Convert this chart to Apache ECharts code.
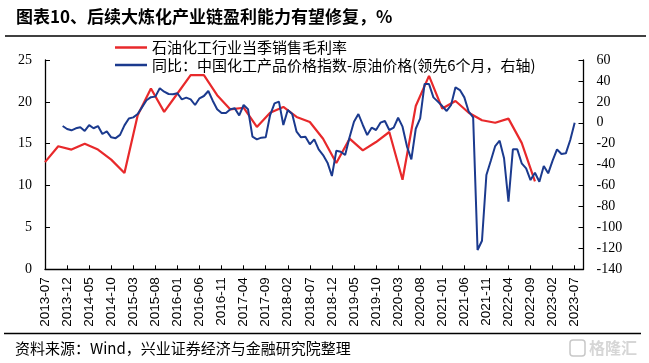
<!DOCTYPE html>
<html>
<head>
<meta charset="utf-8">
<script src="https://cdn.jsdelivr.net/npm/echarts@6/dist/echarts.min.js"></script>
<style>
html,body{margin:0;padding:0;background:#fff;}
#chart{width:649px;height:363px;}
</style>
</head>
<body>
<div id="chart"></div>
<script>
// ---- data ----
var startYear = 2013, startMonth = 7, monthCount = 123; // 2013-07 .. 2023-09 (axis range)
var categories = [];
for (var k = 0; k < monthCount; k++) {
  var m = startMonth - 1 + k;
  var yy = startYear + Math.floor(m / 12);
  var mm = (m % 12) + 1;
  categories.push(yy + '-' + (mm < 10 ? '0' + mm : '' + mm));
}
var tickLabels = ['2013-07','2013-12','2014-05','2014-10','2015-03','2015-08','2016-01','2016-06',
  '2016-11','2017-04','2017-09','2018-02','2018-07','2018-12','2019-05','2019-10','2020-03','2020-08',
  '2021-01','2021-06','2021-11','2022-04','2022-09','2023-02','2023-07'];

var seriesNames = ['石油化工行业当季销售毛利率', '同比：中国化工产品价格指数-原油价格(领先6个月，右轴)'];

var marginMonths = ['2013-07','2013-10','2014-01','2014-04','2014-07','2014-10','2015-01','2015-04',
  '2015-07','2015-10','2016-01','2016-04','2016-07','2016-10','2017-01','2017-04','2017-07','2017-10',
  '2018-01','2018-04','2018-07','2018-10','2019-01','2019-04','2019-07','2019-10','2020-01','2020-04',
  '2020-07','2020-10','2021-01','2021-04','2021-07','2021-10','2022-01','2022-04','2022-07','2022-10'];
var marginValues = [12.8,14.7,14.3,15.0,14.3,13.1,11.5,18.4,
  21.6,18.8,21.0,23.2,23.2,20.8,19.1,19.3,17.0,18.7,
  19.4,18.2,17.6,15.6,12.7,15.6,14.2,15.2,16.4,10.7,
  19.5,23.1,19.2,20.1,18.7,17.8,17.5,18.0,15.1,10.5];

var spreadStart = '2013-11';
var spreadValues = [
  -3.1,-5.9,-7.2,-5.3,-4.3,-7.8,-2.3,-5.2,-3.1,-10.7,          // 2013-11 .. 2014-08
  -8.2,-13.9,-14.7,-11.6,-2.5,4.1,5.2,8.4,15,21.5,             // 2014-09 .. 2015-06
  24.5,25,33,29.7,27.5,27.2,28.2,22.4,24,22.4,                 // 2015-07 .. 2016-04
  17,23.4,25.6,30.4,21.1,13,9.3,9.3,12.9,13.8,                 // 2016-05 .. 2017-02
  7,17,12.9,-13.3,-15.8,-14.2,-13.9,7.4,18.6,20.2,             // 2017-03 .. 2017-12
  -2.1,12.2,8.4,-8.5,-13.9,-13.3,-20.6,-15.8,-25.4,-30.8,      // 2018-01 .. 2018-10
  -38.1,-50.9,-26.7,-27.6,-30.8,-13.9,1,8.4,-2.1,-11.7,        // 2018-11 .. 2019-08
  -4.7,-6.9,0.1,1.7,-6.9,-4.7,4.8,-3.7,-22.5,-34.9,            // 2019-09 .. 2020-06
  -5.7,4.3,37.1,37.1,24.3,20.2,16,11.3,17,33.9,                // 2020-07 .. 2021-04
  31.3,24.3,10.6,5.2,-121.6,-112.7,-49.9,-36.2,-22.2,-17.1,    // 2021-05 .. 2022-02
  -33.9,-75.4,-25.4,-25.4,-38.7,-43.5,-54.7,-47.7,-56.3,-41.3, // 2022-03 .. 2022-12
  -48.3,-36.2,-25.4,-29.8,-29.2,-16.5,0.1                      // 2023-01 .. 2023-07
];

var leftTicks = {min: 0, max: 25, interval: 5};
var rightTicks = {min: -140, max: 60, interval: 20};

var titleText = '图表10、后续大炼化产业链盈利能力有望修复，%';
var sourceText = '资料来源：Wind，兴业证券经济与金融研究院整理';

// ---- build series data ----
var marginData = marginMonths.map(function (mo, i) { return [mo, marginValues[i]]; });
var s0 = categories.indexOf(spreadStart);
var spreadData = spreadValues.map(function (v, i) { return [categories[s0 + i], v]; });
var showTick = function (idx, value) { return tickLabels.indexOf(categories[idx]) >= 0; };

var RED = '#E8292B', BLUE = '#1B3A8E';
var chart = echarts.init(document.getElementById('chart'), null, {renderer: 'canvas'});

var option = {
  backgroundColor: '#fff',
  animation: false,
  grid: {left: 45, right: 65.5, top: 60, bottom: 93.7, containLabel: false},
  legend: [
    {data: [{name: seriesNames[0], icon: 'rect'}], left: 115, top: 39.5, padding: 0,
     itemWidth: 32, itemHeight: 2.5, itemGap: 5,
     textStyle: {fontSize: 15, lineHeight: 16, color: '#000', fontFamily: 'Noto Sans CJK SC'}},
    {data: [{name: seriesNames[1], icon: 'rect'}], left: 115, top: 57, padding: 0,
     itemWidth: 32, itemHeight: 2.5, itemGap: 5,
     textStyle: {fontSize: 15, lineHeight: 16, color: '#000', fontFamily: 'Noto Sans CJK SC'}}
  ],
  xAxis: {
    type: 'category', data: categories, boundaryGap: false,
    axisLine: {lineStyle: {color: '#000', width: 1.3}},
    axisTick: {inside: true, length: 4, interval: showTick, lineStyle: {color: '#000'}},
    axisLabel: {interval: showTick, rotate: 90, margin: 8, color: '#000', fontSize: 13.5,
                fontFamily: 'Liberation Sans', hideOverlap: false},
    splitLine: {show: false}
  },
  yAxis: [
    {type: 'value', min: leftTicks.min, max: leftTicks.max, interval: leftTicks.interval,
     axisLine: {show: true, lineStyle: {color: '#000', width: 1.3}},
     axisTick: {show: true, inside: true, length: 5, lineStyle: {color: '#000'}},
     axisLabel: {color: '#000', fontSize: 14, margin: 13, fontFamily: 'Liberation Serif'},
     splitLine: {show: false}},
    {type: 'value', min: rightTicks.min, max: rightTicks.max, interval: rightTicks.interval,
     position: 'right',
     axisLine: {show: true, lineStyle: {color: '#000', width: 1.3}},
     axisTick: {show: true, inside: true, length: 5, lineStyle: {color: '#000'}},
     axisLabel: {color: '#000', fontSize: 14, margin: 13, fontFamily: 'Liberation Serif'},
     splitLine: {show: false}}
  ],
  series: [
    {name: seriesNames[0], type: 'line', yAxisIndex: 0, data: marginData,
     showSymbol: false, symbol: 'none', color: RED,
     lineStyle: {color: RED, width: 2.2}},
    {name: seriesNames[1], type: 'line', yAxisIndex: 1, data: spreadData,
     showSymbol: false, symbol: 'none', color: BLUE,
     lineStyle: {color: BLUE, width: 2}}
  ],
  graphic: [
    {type: 'text', x: 16, y: 17,
     style: {text: titleText, font: 'bold 17px "Noto Sans CJK SC"', fill: '#000',
             verticalAlign: 'middle', textVerticalAlign: 'middle'}},
    {type: 'line', shape: {x1: 5, y1: 36, x2: 646, y2: 36},
     style: {stroke: '#000', lineWidth: 1.5}},
    {type: 'line', shape: {x1: 4, y1: 333.5, x2: 641, y2: 333.5},
     style: {stroke: '#000', lineWidth: 1.5}},
    {type: 'text', x: 15, y: 348,
     style: {text: sourceText, font: '15px "Noto Sans CJK SC"', fill: '#000',
             verticalAlign: 'middle', textVerticalAlign: 'middle'}},
    {type: 'rect', shape: {x: 570, y: 340, width: 15, height: 16, r: 3},
     style: {fill: 'none', stroke: '#c8c8c8', lineWidth: 1.5}},
    {type: 'text', x: 589, y: 348,
     style: {text: '格隆汇', font: 'bold 16px "Noto Sans CJK SC"', fill: '#d6d6d6',
             verticalAlign: 'middle', textVerticalAlign: 'middle'}}
  ]
};
chart.setOption(option);
</script>
</body>
</html>
